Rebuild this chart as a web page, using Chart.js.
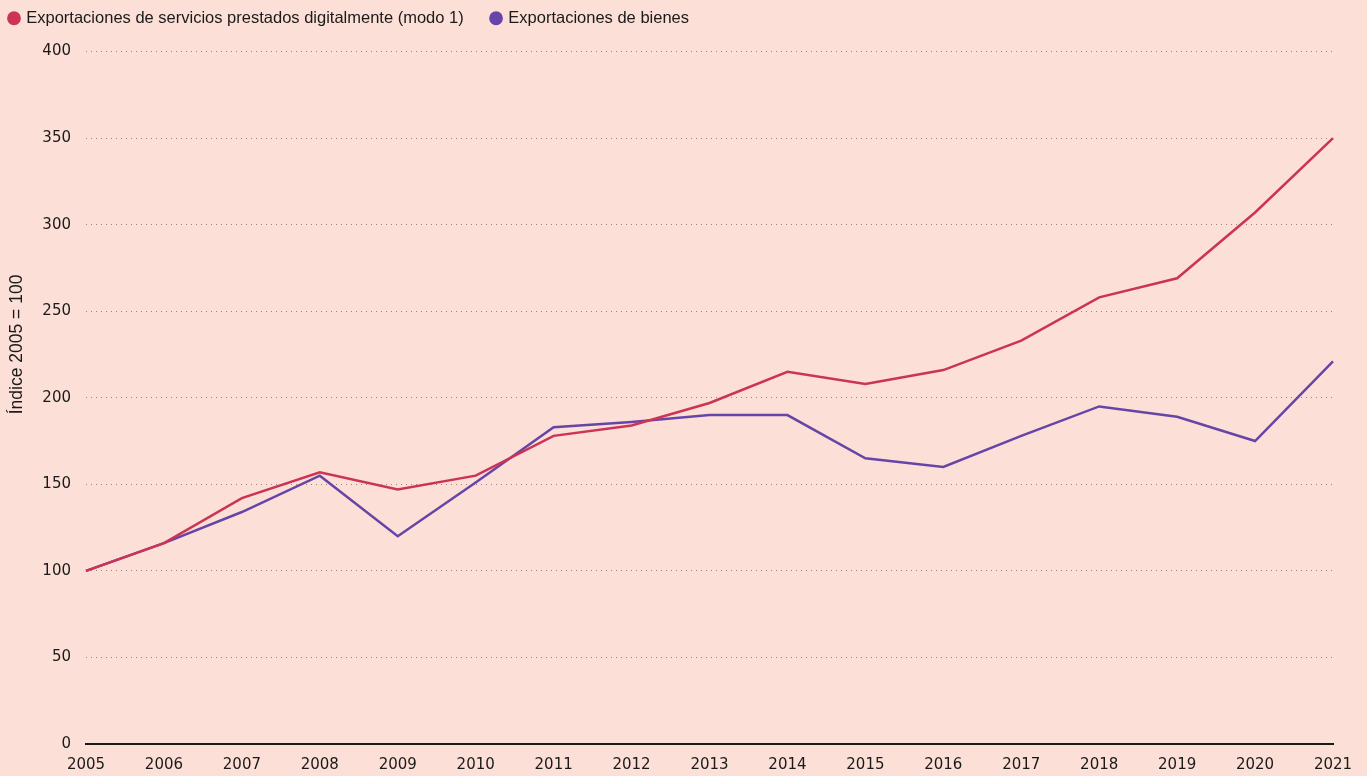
<!DOCTYPE html>
<html>
<head>
<meta charset="utf-8">
<script src="https://cdn.jsdelivr.net/npm/chart.js@4"></script>
<style>
  html, body { margin: 0; padding: 0; background: #fcdfd6; }
  #wrap { width: 1367px; height: 776px; }
</style>
</head>
<body>
<div id="wrap"><canvas id="chart"></canvas></div>
<script>
// years on the x axis
const years = ["2005", "2006", "2007", "2008", "2009", "2010", "2011", "2012",
  "2013", "2014", "2015", "2016", "2017", "2018", "2019", "2020", "2021"];

// index 2005 = 100
const digitalServices = [100, 116, 142, 157, 147, 155, 178, 184, 197, 215, 208, 216, 233, 258, 269, 307, 350];
const goods = [100, 116, 134, 155, 120, 151, 183, 186, 190, 190, 165, 160, 178, 195, 189, 175, 221];

const seriesNames = ["Exportaciones de servicios prestados digitalmente (modo 1)", "Exportaciones de bienes"];
const seriesColors = ["#cb3455", "#6745a8"];
const yTitle = "Índice 2005 = 100";

const textFont = "'Liberation Sans', Arial, sans-serif";
const tickFont = "'DejaVu Sans', sans-serif";

// legend sits tight at the top, with a gap under it before the plot
const legendGap = {
  id: "legendGap",
  afterInit(chart) {
    const lg = chart.legend;
    const fit = lg.fit.bind(lg);
    lg.fit = function () {
      fit();
      this.height += 15;
    };
  },
};

// y title is placed a bit above the middle of the plot, as in the original
const yTitlePlugin = {
  id: "yTitle",
  afterDraw(chart) {
    const ctx = chart.ctx;
    const area = chart.chartArea;
    ctx.save();
    ctx.translate(17, area.top + (area.bottom - area.top) * 0.423);
    ctx.rotate(-Math.PI / 2);
    ctx.font = "17.5px " + textFont;
    ctx.fillStyle = "#1a1a1a";
    ctx.textAlign = "center";
    ctx.textBaseline = "middle";
    ctx.fillText(yTitle, 0, 0);
    ctx.restore();
  },
};

new Chart(document.getElementById("chart"), {
  type: "line",
  data: {
    labels: years,
    datasets: [
      {
        label: seriesNames[0],
        data: digitalServices,
        borderColor: seriesColors[0],
        backgroundColor: seriesColors[0],
        borderWidth: 2.5,
        pointRadius: 0,
        tension: 0,
      },
      {
        label: seriesNames[1],
        data: goods,
        borderColor: seriesColors[1],
        backgroundColor: seriesColors[1],
        borderWidth: 2.5,
        pointRadius: 0,
        tension: 0,
      },
    ],
  },
  plugins: [legendGap, yTitlePlugin],
  options: {
    responsive: true,
    maintainAspectRatio: false,
    animation: false,
    layout: { padding: { left: 0, right: 34, top: 0, bottom: 0 } },
    plugins: {
      tooltip: { enabled: false },
      legend: {
        position: "top",
        align: "start",
        labels: {
          usePointStyle: true,
          pointStyle: "circle",
          boxWidth: 8,
          boxHeight: 8,
          padding: 10,
          color: "#1a1a1a",
          font: { family: textFont, size: 16.5 },
          generateLabels(chart) {
            const items = Chart.defaults.plugins.legend.labels.generateLabels(chart);
            // wider space between the two entries
            items.forEach((it, i) => { if (i < items.length - 1) it.text += "    "; });
            return items;
          },
        },
      },
    },
    scales: {
      x: {
        offset: false,
        grid: { display: false, drawTicks: false },
        border: { display: true, color: "#1a1a1a", width: 2 },
        ticks: {
          color: "#1a1a1a",
          font: { family: tickFont, size: 15 },
          padding: 12,
          maxRotation: 0,
          autoSkip: false,
        },
        afterFit: (scale) => { scale.height = 32; },
      },
      y: {
        min: 0,
        max: 400,
        grid: {
          color: "rgba(120, 100, 95, 0.75)",
          lineWidth: 1,
          drawTicks: false,
        },
        border: { display: false, dash: [1, 4] },
        ticks: {
          stepSize: 50,
          color: "#1a1a1a",
          font: { family: tickFont, size: 15 },
          padding: 15,
        },
        afterFit: (scale) => { scale.width = 86; },
      },
    },
  },
});
</script>
</body>
</html>
